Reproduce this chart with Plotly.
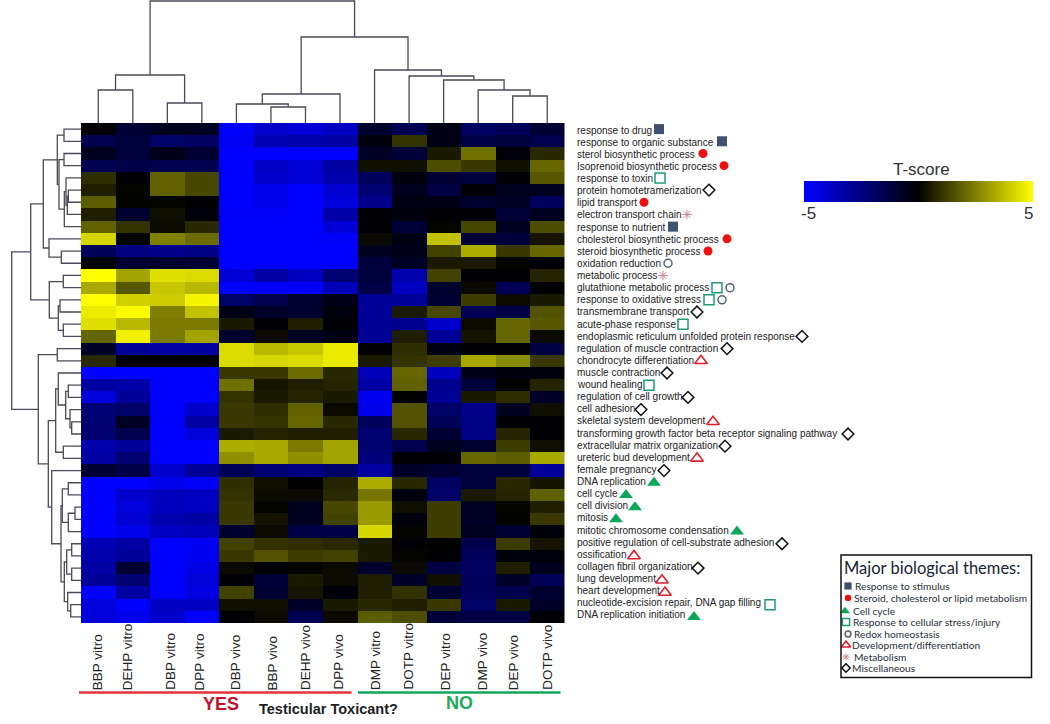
import plotly.graph_objects as go

W, H = 1050, 724
HM_L, HM_R, HM_T, HM_B = 81, 564.5, 123, 623

samples = ["BBP vitro", "DEHP vitro", "DBP vitro", "DPP vitro", "DBP vivo", "BBP vivo", "DEHP vivo",
           "DPP vivo", "DMP vitro", "DOTP vitro", "DEP vitro", "DMP vivo", "DEP vivo", "DOTP vivo"]

terms = ["response to drug", "response to organic substance", "sterol biosynthetic process",
         "Isoprenoid biosynthetic process", "response to toxin", "protein homotetramerization", "lipid transport",
         "electron transport chain", "response to nutrient", "cholesterol biosynthetic process",
         "steroid biosynthetic process", "oxidation reduction", "metabolic process", "glutathione metabolic process",
         "response to oxidative stress", "transmembrane transport", "acute-phase response",
         "endoplasmic reticulum unfolded protein response", "regulation of muscle contraction",
         "chondrocyte differentiation", "muscle contraction", "wound healing", "regulation of cell growth",
         "cell adhesion", "skeletal system development", "transforming growth factor beta receptor signaling pathway",
         "extracellular matrix organization", "ureteric bud development", "female pregnancy", "DNA replication",
         "cell cycle", "cell division", "mitosis", "mitotic chromosome condensation",
         "positive regulation of cell-substrate adhesion", "ossification", "collagen fibril organization",
         "lung development", "heart development", "nucleotide-excision repair, DNA gap filling",
         "DNA replication initiation"]

tscores = [
    [-0.1, -1.0, -0.6, -0.6, -5.0, -4.0, -4.2, -3.8, -0.9, -1.6, -0.4, -1.9, -1.8, -1.0],
    [-1.5, -1.2, -2.0, -1.9, -4.8, -3.5, -3.4, -3.2, -0.3, 1.0, -0.4, -1.4, -1.2, -1.5],
    [-0.6, -1.2, -0.5, -1.0, -5.0, -5.0, -5.0, -5.0, -0.7, -1.1, 0.5, 2.2, -0.2, 0.8],
    [-1.6, -1.4, -1.5, -1.5, -5.0, -3.9, -4.2, -3.2, 0.3, 0.3, 1.5, 1.1, 0.3, 2.0],
    [0.9, -0.1, 1.9, 1.4, -5.0, -4.0, -4.2, -3.4, -1.8, -0.3, -1.0, -1.2, -0.1, 1.7],
    [0.6, 0.1, 1.9, 1.4, -5.0, -4.6, -5.0, -4.1, -2.2, -0.6, -1.3, -0.1, -0.6, -0.6],
    [1.8, 0.05, 0.1, -0.05, -5.0, -4.6, -5.0, -4.3, -2.7, -0.4, -0.4, -0.9, -0.7, -1.8],
    [0.6, -0.9, 0.3, -0.2, -4.9, -4.9, -5.0, -3.3, -0.1, -0.3, -0.1, -0.1, -1.1, -0.6],
    [1.9, 1.0, 0.2, 0.8, -5.0, -5.0, -5.0, -4.2, -0.1, -1.1, 0.1, 1.4, -0.6, 1.5],
    [4.2, 0.1, 2.5, 2.1, -5.0, -5.0, -5.0, -4.9, 0.2, -0.4, 3.8, -1.1, -1.2, 0.4],
    [-1.7, -2.5, -2.7, -2.6, -5.0, -5.0, -5.0, -5.0, -0.6, -0.5, 1.3, 3.4, 1.1, 2.0],
    [0.05, -1.0, -0.9, -1.0, -5.0, -5.0, -5.0, -5.0, -1.2, -0.7, 0.5, 0.5, 0.1, -0.1],
    [5.0, 3.2, 4.4, 4.3, -4.2, -3.2, -3.8, -2.2, -1.2, -3.4, 1.3, -0.05, -0.05, 0.7],
    [3.3, 1.7, 3.9, 3.6, -4.9, -4.9, -4.9, -3.6, -1.4, -3.8, -0.9, 0.2, -1.7, -0.05],
    [5.0, 4.1, 4.0, 4.8, -2.0, -1.5, -0.9, -0.5, -3.0, -3.0, -1.0, 1.2, 0.2, 0.5],
    [4.6, 4.9, 2.5, 3.8, -0.4, -0.8, -0.9, -0.2, -3.0, 0.5, 1.4, -1.7, -1.4, 1.6],
    [4.4, 3.6, 2.4, 2.4, 0.5, -0.1, 0.6, -0.1, -2.9, -2.8, -4.0, 0.2, 2.0, 1.7],
    [2.0, 4.7, 2.4, 3.2, -0.9, 0.2, -0.7, -0.4, -2.9, 0.6, -3.0, 0.4, 2.0, 0.2],
    [-0.8, -3.0, -3.2, -3.1, 4.3, 3.6, 3.9, 4.6, -0.1, 0.9, -0.4, -0.1, -0.1, -1.3],
    [0.8, -0.05, -0.05, -0.05, 4.3, 4.2, 4.3, 4.6, 0.5, 1.0, 1.2, 3.3, 2.7, 1.1],
    [-5.0, -5.0, -5.0, -5.0, 1.1, 1.1, 2.1, 0.8, -3.6, 2.0, -3.7, -0.5, -0.3, -0.2],
    [-3.2, -3.3, -5.0, -5.0, 2.2, 0.4, 0.6, 0.7, -3.2, 1.9, -2.8, -1.2, 0.05, 0.7],
    [-4.3, -3.0, -5.0, -5.0, 1.0, 0.5, 0.7, 0.5, -4.7, 0.0, -2.9, 0.5, 0.9, -0.8],
    [-2.3, -2.0, -5.0, -4.0, 1.1, 0.9, 1.9, 0.2, -4.6, 1.6, -2.0, -2.7, -0.6, 0.3],
    [-2.2, -0.7, -5.0, -3.2, 1.1, 1.0, 2.0, 0.8, -1.8, 1.6, -1.7, -2.6, -0.05, -0.1],
    [-2.2, -1.5, -5.0, -4.3, 0.5, 0.7, 0.6, 0.6, -2.2, 0.8, -1.0, -2.6, 0.7, -0.05],
    [-3.4, -3.0, -5.0, -5.0, 3.4, 3.3, 2.4, 3.2, -2.2, -1.5, -0.6, -0.9, 1.2, 0.3],
    [-3.2, -2.2, -5.0, -5.0, 2.8, 3.3, 2.8, 3.2, -2.4, -0.1, -0.1, 2.0, 1.8, 3.3],
    [-1.0, -1.4, -4.0, -3.0, -1.7, -2.3, -2.5, -2.0, -3.2, -0.8, -1.0, -1.2, -1.2, -3.0],
    [-5.0, -5.0, -4.6, -4.9, 0.9, 0.3, 0.0, 0.7, 3.4, 0.8, -1.9, -1.2, 0.8, 0.4],
    [-5.0, -4.0, -3.7, -3.8, 1.0, 0.2, 0.2, 0.8, 2.3, -0.3, -2.0, 0.5, 0.7, 1.9],
    [-5.0, -4.3, -3.7, -3.8, 1.1, 0.1, -0.6, 1.4, 3.0, 0.3, 1.2, -0.7, 0.1, 0.6],
    [-5.0, -4.1, -3.4, -3.2, 1.1, 0.4, -0.6, 1.3, 3.0, -0.3, 1.2, -0.7, 0.05, 1.1],
    [-5.0, -4.6, -3.8, -3.6, -0.9, 0.2, -1.4, -1.4, 4.2, 0.1, 1.2, -0.6, -1.0, -0.2],
    [-3.5, -3.2, -5.0, -4.8, 1.3, 1.0, 0.9, 0.8, 0.5, -0.1, 0.0, -1.5, 1.2, 0.4],
    [-3.4, -3.0, -5.0, -4.7, 1.1, 1.6, 1.2, 1.3, 0.5, 0.1, -0.1, -1.8, -0.2, -0.2],
    [-3.2, -1.0, -5.0, -4.5, 0.2, -0.1, 0.05, 0.2, -0.9, 0.2, -1.3, -1.9, 0.6, -0.6],
    [-3.0, -2.2, -5.0, -4.3, -0.1, -1.1, 0.5, 0.2, 0.6, -0.8, 0.3, -1.8, -0.8, -1.7],
    [-5.0, -3.2, -5.0, -4.4, 1.3, -1.0, 0.4, -0.2, 0.6, 1.0, -1.0, -1.8, -1.5, -0.9],
    [-4.3, -5.0, -3.8, -3.8, 0.3, 0.3, -0.8, 0.5, 0.8, 0.6, 1.1, -2.0, 0.5, -0.8],
    [-4.3, -4.6, -4.0, -5.0, -0.1, 0.2, -1.6, 0.2, 1.8, 1.5, -1.1, -1.3, -1.3, -0.1],
]

# dendrograms: [merge height, left child, right child]; an int child is a leaf index
column_tree = [122, [48, [33, 0, 1], [20, 2, 3]],
               [86, [29, [19, 4, [16, 5, 6]], 7],
                [53, 8, [47, 9, [43, 10, [33, 11, [27, 12, 13]]]]]]]

row_tree = [69.3,
            [50.3,
             [37.7,
              [23.7, [17, 0, 1],
               [22, [17, 2, 3],
                [16.7, [15, 4, [13.7, [12.7, 5, 6], 7]], 8]]],
              [32, 9, [19.7, 10, 11]]],
             [31.7, [17.7, 12, 13],
              [22.7, [21, 14, 15], [17.7, 16, 17]]]],
            [42.7,
             [23.7, 18, 19],
             [32.7,
              [25.3,
               [22.7, 20, [15.3, [12.7, 21, 22], [11, 23, [9.3, 24, 25]]]],
               [17.7, 26, 27]],
              [29.3, 28,
               [20,
                [18.7, [12.7, 29, 30], [12.7, [6, 31, 32], 33]],
                [16.7,
                 [14.3, [9.3, 34, 35], [9.3, 36, 37]],
                 [13.3, 38, [10.3, 39, 40]]]]]]]]

themes = ["Response to stimulus", "Steroid, cholesterol or lipid metabolism", "Cell cycle",
          "Response to cellular stress/injury", "Redox homeostasis", "Development/differentiation",
          "Metabolism", "Miscellaneous"]

# theme index of each term, and of the terms carrying a second symbol
term_theme = [0, 0, 1, 1, 3, 7, 1, 6, 0, 1, 1, 4, 6, 3, 3, 7, 3, 7, 7, 5, 7, 3, 7, 7, 5, 7, 7, 5, 7,
              2, 2, 2, 2, 2, 7, 5, 7, 5, 5, 3, 2]
second_theme = {13: 4, 14: 4}

# horizontal placement (page pixels) of the symbol following each term label
symbol_px = [659, 722, 703, 724, 660, 709, 644, 687, 673, 727, 708, 668, 663, 717, 709, 697, 683, 802,
             727, 701, 667, 649, 688, 641, 713, 848, 725, 697, 664, 654, 626, 635, 616, 737, 782, 634,
             698, 662, 665, 770, 694]
second_symbol_px = {13: 730, 14: 722}

theme_style = [
    dict(symbol="square", size=10, color="#3f5170", line=dict(width=0)),
    dict(symbol="circle", size=9, color="#f01010", line=dict(width=0)),
    dict(symbol="triangle-up", size=12, color="#0aa65a", line=dict(width=0)),
    dict(symbol="square-open", size=10, color="#1e9a78", line=dict(width=1.5, color="#1e9a78")),
    dict(symbol="circle-open", size=8, color="#55626e", line=dict(width=1.5, color="#55626e")),
    dict(symbol="triangle-up-open", size=11, color="#e0202c", line=dict(width=1.6, color="#e0202c")),
    dict(symbol="asterisk-open", size=8, color="#c98a8a", line=dict(width=1, color="#c98a8a")),
    dict(symbol="diamond-open", size=9, color="#111111", line=dict(width=1.5, color="#111111")),
]
legend_marker_scale = 0.72
legend_y_px = [586, 598, 611, 622, 634, 645, 657, 668]
legend_mark_x_px = [848, 848, 845, 846, 848, 846, 846, 846]
legend_text_x_px = [855, 854, 853, 853, 854, 852, 854, 852]
label_nudge_px = [-1, -5, 3, -2, -1, 2, 0, -2, 1, -1, 2, 4, 1, 0]

DENDRO = "#4a4a58"


def walk(node, segs_pos, segs_h):
    if isinstance(node, int):
        return node, 0.0
    h, left, right = node
    p1, h1 = walk(left, segs_pos, segs_h)
    p2, h2 = walk(right, segs_pos, segs_h)
    segs_pos += [p1, p1, p2, p2, None]
    segs_h += [h1, h, h, h2, None]
    return (p1 + p2) / 2, h


fig = go.Figure()

fig.add_trace(go.Heatmap(
    z=tscores, x=list(range(len(samples))), y=list(range(len(terms))),
    zmin=-5, zmax=5, xaxis="x", yaxis="y", hoverongaps=False,
    colorscale=[[0, "#0000ff"], [0.5, "#000000"], [1, "#ffff00"]],
    colorbar=dict(orientation="h", lenmode="pixels", len=229, thicknessmode="pixels", thickness=21,
                  x=(804 + 114.5) / W, xanchor="center", y=1 - 181 / H, yanchor="top", xpad=0, ypad=0,
                  outlinewidth=0, ticks="", showticklabels=False, title=dict(text="")),
))

cp, ch = [], []
walk(column_tree, cp, ch)
fig.add_trace(go.Scatter(x=cp, y=ch, mode="lines", xaxis="x2", yaxis="y2", line=dict(color=DENDRO, width=1.3),
                         showlegend=False, hoverinfo="skip"))
rp, rh = [], []
walk(row_tree, rp, rh)
fig.add_trace(go.Scatter(x=rh, y=rp, mode="lines", xaxis="x3", yaxis="y3", line=dict(color=DENDRO, width=1.3),
                         showlegend=False, hoverinfo="skip"))

for t, style in enumerate(theme_style):
    xs = [symbol_px[i] for i, th in enumerate(term_theme) if th == t]
    ys = [i for i, th in enumerate(term_theme) if th == t]
    for i, th in second_theme.items():
        if th == t:
            xs.append(second_symbol_px[i])
            ys.append(i)
    fig.add_trace(go.Scatter(x=xs, y=ys, mode="markers", xaxis="x4", yaxis="y", marker=style, cliponaxis=False,
                             showlegend=False, name=themes[t]))
    small = dict(style)
    small["size"] = style["size"] * legend_marker_scale
    fig.add_trace(go.Scatter(x=[legend_mark_x_px[t]], y=[legend_y_px[t]], mode="markers", xaxis="x4", yaxis="y4",
                             marker=small, cliponaxis=False, showlegend=False, name=themes[t]))

annotations = []


def text(px, py, s, size, family="Liberation Sans", color="#222222", anchor="left", bold=False, angle=0, yanchor="middle"):
    annotations.append(dict(xref="paper", yref="paper", x=px / W, y=1 - py / H, text=f"<b>{s}</b>" if bold else s,
                            showarrow=False, xanchor=anchor, yanchor=yanchor, textangle=angle,
                            font=dict(family=family, size=size, color=color), borderpad=0, borderwidth=0))


for i, s in enumerate(samples):
    annotations.append(dict(xref="x", yref="paper", x=i, y=1 - 692 / H, xshift=label_nudge_px[i], text=s, showarrow=False,
                            textangle=-90, xanchor="center", yanchor="bottom",
                            font=dict(family="Liberation Sans", size=13.5, color="#222222")))
for i, s in enumerate(terms):
    annotations.append(dict(xref="paper", yref="y", x=574.5 / W, y=i, yshift=-(1 - 3 * i / 40), text=s, showarrow=False,
                            xanchor="left", yanchor="middle",
                            font=dict(family="Liberation Sans", size=10, color="#222222")))

text(921.5, 169.5, "T-score", 17, anchor="center", color="#333333")
text(808, 213, "-5", 17, anchor="center", color="#333333")
text(1028, 213, "5", 17, anchor="center", color="#333333")
text(221, 704, "YES", 18, color="#c8102e", anchor="center", bold=True)
text(459, 703, "NO", 18, color="#1fa85a", anchor="center", bold=True)
text(328.5, 709, "Testicular Toxicant?", 14.5, color="#1b1f24", anchor="center", bold=True)
text(844, 568, "Major biological themes:", 16.5, family="Lato", color="#1a2430")
for t, name in enumerate(themes):
    text(legend_text_x_px[t], legend_y_px[t], name, 10.2, family="Lato", color="#2a3038")

shapes = [
    dict(type="rect", xref="paper", yref="paper", x0=841 / W, x1=1031.5 / W, y0=1 - 555 / H, y1=1 - 677.5 / H,
         line=dict(color="#111111", width=1.5), fillcolor="rgba(0,0,0,0)"),
    dict(type="line", xref="paper", yref="paper", x0=79 / W, x1=351.5 / W, y0=1 - 692.5 / H, y1=1 - 692.5 / H,
         line=dict(color="#e0353a", width=2.5)),
    dict(type="line", xref="paper", yref="paper", x0=358 / W, x1=560.5 / W, y0=1 - 692.5 / H, y1=1 - 692.5 / H,
         line=dict(color="#10a858", width=2.5)),
]

hidden = dict(visible=False, showgrid=False, zeroline=False, fixedrange=True)
fig.update_layout(
    width=W, height=H, margin=dict(l=0, r=0, t=0, b=0, pad=0), paper_bgcolor="white", plot_bgcolor="rgba(0,0,0,0)",
    showlegend=False, annotations=annotations, shapes=shapes,
    xaxis=dict(hidden, domain=[HM_L / W, HM_R / W], range=[-0.5, len(samples) - 0.5], anchor="y"),
    yaxis=dict(hidden, domain=[1 - HM_B / H, 1 - HM_T / H], range=[len(terms) - 0.5, -0.5], anchor="x"),
    xaxis2=dict(hidden, domain=[HM_L / W, HM_R / W], range=[-0.5, len(samples) - 0.5], anchor="y2"),
    yaxis2=dict(hidden, domain=[1 - HM_T / H, 1], range=[0, HM_T], anchor="x2"),
    xaxis3=dict(hidden, domain=[0, HM_L / W], range=[HM_L, 0], anchor="y3"),
    yaxis3=dict(hidden, domain=[1 - HM_B / H, 1 - HM_T / H], range=[len(terms) - 0.5, -0.5], anchor="x3"),
    xaxis4=dict(hidden, domain=[0, 1], range=[0, W], anchor="y"),
    yaxis4=dict(hidden, domain=[0, 1], range=[H, 0], anchor="x4"),
)

fig.write_html("out.html", config={"displayModeBar": False}, post_script="document.body.style.margin='0';")
